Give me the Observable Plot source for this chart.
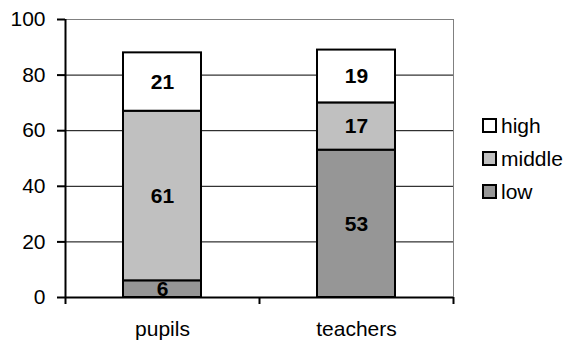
<!DOCTYPE html>
<html>
<head>
<meta charset="utf-8">
<script src="https://cdn.jsdelivr.net/npm/d3@7"></script>
<script src="https://cdn.jsdelivr.net/npm/@observablehq/plot@0.6"></script>
<style>
  html, body { margin: 0; padding: 0; background: #fff; }
  #wrap { position: relative; width: 571px; height: 344px; font-family: "Liberation Sans", Arial, sans-serif; }
  .leg { position: absolute; left: 482px; display: flex; align-items: center; font-size: 21px; color: #000; line-height: 1; }
  .sw { width: 11px; height: 11px; border: 2px solid #000; margin-right: 4px; }
</style>
</head>
<body>
<div id="wrap"></div>
<script>
const categories = ["pupils", "teachers"];
const levels = ["low", "middle", "high"];
const low = [6, 53];
const middle = [61, 17];
const high = [21, 19];
const colors = ["#969696", "#c0c0c0", "#ffffff"];
const yTicks = [0, 20, 40, 60, 80, 100];
const legendOrder = ["high", "middle", "low"];

const series = [low, middle, high];
const data = categories.flatMap((c, i) =>
  levels.map((l, j) => ({ group: c, level: l, value: series[j][i] }))
);

const half = (571 - 65 - 118) / categories.length / 2;

const chart = Plot.plot({
  width: 571,
  height: 344,
  marginLeft: 65,
  marginRight: 118,
  marginTop: 19,
  marginBottom: 47,
  style: { fontFamily: "'Liberation Sans', Arial, sans-serif", fontSize: "21px", color: "#000", background: "#fff", overflow: "visible" },
  x: { domain: categories, paddingInner: 0.6, paddingOuter: 0.3, label: null },
  y: { domain: [0, 100], label: null },
  color: { domain: levels, range: colors },
  marks: [
    Plot.ruleY(yTicks.slice(1), { stroke: "#000", strokeWidth: 1 }),
    Plot.frame({ stroke: "#808080" }),
    Plot.barY(data, { x: "group", y: "value", z: "level", fill: "level", stroke: "#000", strokeWidth: 2 }),
    Plot.text(data, Plot.stackY({ x: "group", y: "value", z: "level", text: "value", fontWeight: "bold", fill: "#000" })),
    Plot.ruleY([0], { stroke: "#000", strokeWidth: 2 }),
    Plot.ruleX([categories[0]], { dx: -half, y1: 0, y2: 100, stroke: "#000", strokeWidth: 2 }),
    Plot.ruleX([categories[0]], { dx: -half, y1: 0, y2: 0, insetBottom: -7, stroke: "#000", strokeWidth: 2 }),
    Plot.ruleX(categories, { dx: half, y1: 0, y2: 0, insetBottom: -7, stroke: "#000", strokeWidth: 2 }),
    Plot.axisY({ ticks: yTicks, tickSize: 8, tickPadding: 12, strokeWidth: 2 }),
    Plot.axisX({ tickSize: 0, tickPadding: 24 })
  ]
});

const wrap = document.getElementById("wrap");
wrap.appendChild(chart);

const centers = { high: 125, middle: 158, low: 191 };
legendOrder.forEach(l => {
  const d = document.createElement("div");
  d.className = "leg";
  d.style.top = (centers[l] - 11) + "px";
  d.style.height = "22px";
  const sw = document.createElement("div");
  sw.className = "sw";
  sw.style.background = colors[levels.indexOf(l)];
  const t = document.createElement("span");
  t.textContent = l;
  d.appendChild(sw);
  d.appendChild(t);
  wrap.appendChild(d);
});
</script>
</body>
</html>
